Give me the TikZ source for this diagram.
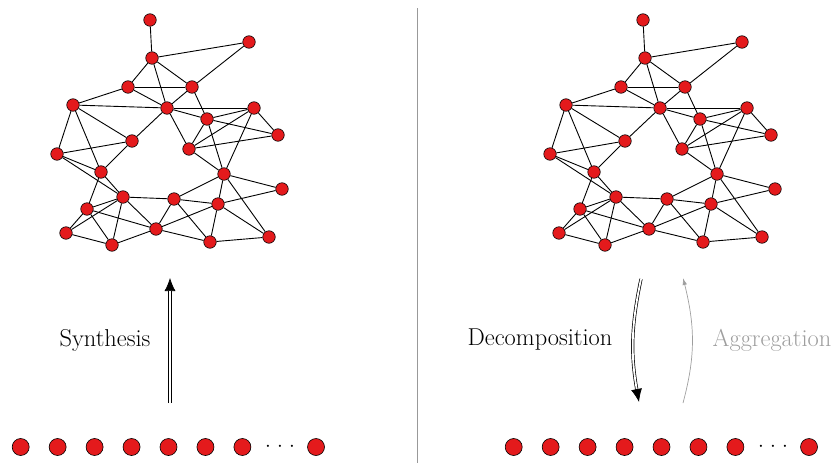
\documentclass[tikz,border=0pt]{standalone}
\usetikzlibrary{arrows.meta,backgrounds,bending}
\definecolor{nodered}{RGB}{228,26,28}
\tikzset{
  vtx/.style={circle,draw=black,line width=0.6pt,fill=nodered,minimum size=12.5pt,inner sep=0pt},
  bvtx/.style={vtx,minimum size=17pt},
  lnk/.style={line width=0.9pt,black},
  lbl/.style={font=\fontsize{24.4}{29}\selectfont,inner sep=0pt},
  dblshaft/.style={double,double distance=1.8pt,line width=0.7pt,shorten >=12.5pt},
  tiponly/.style={black,line width=0.7pt,-{Latex[length=13pt,width=11pt]}},
  aggarrow/.style={black!38,line width=0.7pt,-{Latex[length=7pt,width=4.5pt,flex]}},
  sepline/.style={black!40,line width=1pt},
}
\newcommand\drawnet[2]{%
  \begin{scope}[xshift=#2]
    \foreach \n/\px/\py in {A/150/20,B/249/42,C/152/58,D/128/87,E/192/87,F/73/105,G/167/108,
      H/254/108,I/207/119,J/278/135,K/132/141,L/57/154,M/189/149,N/101/172,O/224/174,
      P/282/189,Q/123/197,R/174/199,S/87/209,T/218/204,U/156/229,V/66/233,W/112/245,
      X/210/242,Y/269/237}
      \node[vtx] (#1\n) at (\px,\py) {};
    \begin{scope}[on background layer]
      \foreach \a/\b in {A/C,C/B,C/D,C/E,C/G,D/E,D/G,D/F,B/E,E/G,E/I,F/G,F/L,F/N,F/K,
        G/H,G/I,G/M,G/K,I/H,I/J,I/M,I/O,H/M,H/O,H/J,M/J,M/O,K/L,K/N,L/N,L/Q,N/Q,N/S,
        Q/R,Q/S,Q/V,Q/W,Q/U,S/V,S/W,S/U,V/W,W/U,U/R,U/X,U/T,R/X,R/T,R/O,T/O,T/X,T/P,
        O/P,O/Y,T/Y,X/Y}
        \draw[lnk] (#1\a) -- (#1\b);
    \end{scope}
  \end{scope}}
\newcommand\drawrow[2]{%
  \begin{scope}[xshift=#2]
    \foreach \i in {0,...,6}
      \node[bvtx] (#1\i) at ({20.7+36.95*\i},447) {};
    \node[font=\fontsize{22.4}{27}\selectfont,inner sep=0pt] (#1dots) at (280,447) {$\mathord{\cdot}\kern6.3pt\mathord{\cdot}\kern6.3pt\mathord{\cdot}$};
    \node[bvtx] (#1last) at (316,447) {};
  \end{scope}}
\begin{document}
\begin{tikzpicture}[x=1pt,y=-1pt]
  \useasboundingbox (0,0) rectangle (832,463);
  \drawnet{l}{0}
  \drawnet{r}{493}
  \drawrow{bl}{0}
  \drawrow{br}{493}
  % separator
  \coordinate (sepT) at (417,8);
  \coordinate (sepB) at (417,463);
  \draw[sepline] (sepT) -- (sepB);
  % synthesis
  \coordinate (s0) at (170,403);
  \coordinate (s1) at (170,278);
  \draw[tiponly] (s0) -- (s1);
  \draw[dblshaft] (s0) -- (s1);
  \node[lbl] (syn) at (105,340) {Synthesis};
  % decomposition / aggregation
  \coordinate (d0) at (641,279);
  \coordinate (d1) at (639,402);
  \coordinate (dtip) at (636.5,389);
  \draw[dblshaft] (d0) to[bend right=11] (d1);
  \draw[tiponly] (dtip) -- (d1);
  \node[lbl] (dec) at (540,340) {Decomposition};
  \coordinate (a0) at (683,403);
  \coordinate (a1) at (683,278);
  \draw[aggarrow] (a0) to[bend right=15] (a1);
  \node[lbl,text=black!38] (agg) at (772,340) {Aggregation};
\end{tikzpicture}
\end{document}
